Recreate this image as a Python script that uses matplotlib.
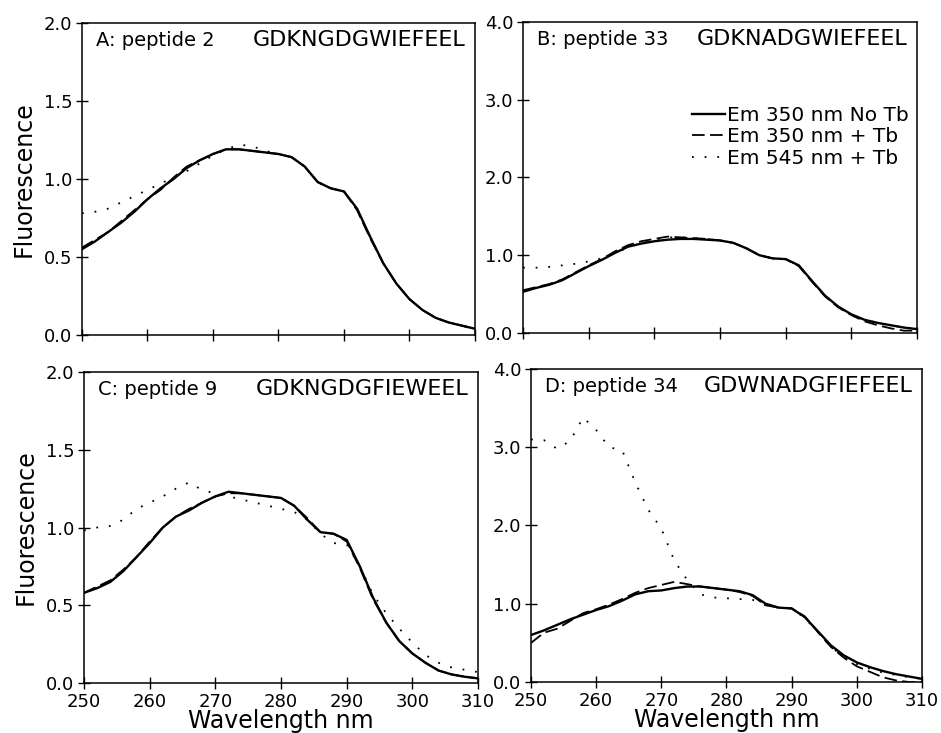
import numpy as np
import matplotlib
matplotlib.use("Agg")
import matplotlib.pyplot as plt

# Excitation spectra, wavelength grid in nm
wavelength = np.arange(250, 311, 2)

# A: peptide 2
a_no_tb = [0.55, 0.60, 0.66, 0.72, 0.79, 0.87, 0.94, 1.00, 1.07, 1.12, 1.16, 1.19, 1.19, 1.18, 1.17, 1.16,
           1.14, 1.08, 0.98, 0.94, 0.92, 0.81, 0.63, 0.46, 0.33, 0.23, 0.16, 0.11, 0.08, 0.06, 0.04]
a_tb_350 = [0.56, 0.61, 0.66, 0.73, 0.80, 0.87, 0.93, 1.01, 1.08, 1.12, 1.16, 1.19, 1.19, 1.18, 1.17, 1.16,
            1.14, 1.08, 0.98, 0.94, 0.92, 0.80, 0.62, 0.46, 0.33, 0.23, 0.16, 0.11, 0.08, 0.06, 0.04]
a_tb_545 = [0.78, 0.79, 0.81, 0.85, 0.89, 0.93, 0.97, 1.01, 1.05, 1.10, 1.15, 1.19, 1.22, 1.21, 1.18, 1.16,
            1.14, 1.08, 0.98, 0.94, 0.92, 0.81, 0.63, 0.46, 0.33, 0.23, 0.16, 0.11, 0.08, 0.06, 0.04]

# B: peptide 33
b_no_tb = [0.53, 0.58, 0.62, 0.68, 0.77, 0.86, 0.94, 1.03, 1.11, 1.15, 1.18, 1.20, 1.21, 1.21, 1.20, 1.19,
           1.16, 1.09, 1.00, 0.96, 0.95, 0.87, 0.67, 0.48, 0.34, 0.24, 0.17, 0.13, 0.10, 0.07, 0.05]
b_tb_350 = [0.55, 0.59, 0.63, 0.69, 0.78, 0.87, 0.95, 1.05, 1.13, 1.18, 1.21, 1.24, 1.23, 1.22, 1.21, 1.19,
            1.16, 1.09, 1.00, 0.96, 0.95, 0.86, 0.66, 0.47, 0.33, 0.23, 0.15, 0.10, 0.06, 0.03, 0.03]
b_tb_545 = [0.84, 0.84, 0.85, 0.87, 0.89, 0.92, 0.96, 1.03, 1.10, 1.16, 1.20, 1.23, 1.23, 1.22, 1.21, 1.19,
            1.16, 1.09, 1.00, 0.96, 0.95, 0.87, 0.67, 0.48, 0.34, 0.24, 0.17, 0.13, 0.10, 0.07, 0.05]

# C: peptide 9
c_no_tb = [0.58, 0.61, 0.65, 0.72, 0.81, 0.90, 1.00, 1.07, 1.11, 1.16, 1.20, 1.23, 1.22, 1.21, 1.20, 1.19,
           1.14, 1.05, 0.97, 0.96, 0.92, 0.75, 0.55, 0.39, 0.27, 0.19, 0.13, 0.08, 0.055, 0.04, 0.03]
c_tb_350 = [0.58, 0.62, 0.66, 0.73, 0.81, 0.91, 1.00, 1.07, 1.12, 1.16, 1.20, 1.22, 1.22, 1.21, 1.20, 1.19,
            1.14, 1.06, 0.97, 0.96, 0.91, 0.74, 0.54, 0.39, 0.27, 0.19, 0.13, 0.08, 0.055, 0.04, 0.03]
c_tb_545 = [0.98, 1.00, 1.01, 1.05, 1.12, 1.16, 1.20, 1.25, 1.29, 1.24, 1.22, 1.20, 1.18, 1.16, 1.14, 1.12,
            1.10, 1.05, 0.96, 0.90, 0.89, 0.75, 0.57, 0.45, 0.35, 0.26, 0.18, 0.13, 0.10, 0.085, 0.07]

# D: peptide 34
d_no_tb = [0.60, 0.66, 0.73, 0.80, 0.86, 0.92, 0.97, 1.04, 1.12, 1.16, 1.17, 1.20, 1.22, 1.22, 1.20, 1.18,
           1.16, 1.11, 1.00, 0.95, 0.94, 0.83, 0.65, 0.47, 0.34, 0.25, 0.19, 0.14, 0.10, 0.07, 0.04]
d_tb_350 = [0.50, 0.63, 0.68, 0.78, 0.88, 0.93, 0.99, 1.06, 1.14, 1.20, 1.24, 1.28, 1.25, 1.22, 1.20, 1.18,
            1.15, 1.10, 0.98, 0.95, 0.94, 0.84, 0.64, 0.45, 0.31, 0.20, 0.13, 0.06, 0.02, 0.0, 0.0]
d_tb_545 = [3.10, 3.09, 2.98, 3.08, 3.38, 3.22, 3.00, 2.96, 2.55, 2.20, 1.96, 1.55, 1.30, 1.12, 1.08, 1.07,
            1.06, 1.05, 0.98, 0.95, 0.94, 0.82, 0.64, 0.45, 0.32, 0.23, 0.17, 0.12, 0.09, 0.06, 0.04]

panel_labels = ["A: peptide 2", "B: peptide 33", "C: peptide 9", "D: peptide 34"]
sequences = ["GDKNGDGWIEFEEL", "GDKNADGWIEFEEL", "GDKNGDGFIEWEEL", "GDWNADGFIEFEEL"]
series_labels = ["Em 350 nm No Tb", "Em 350 nm + Tb", "Em 545 nm + Tb"]
data = [(a_no_tb, a_tb_350, a_tb_545), (b_no_tb, b_tb_350, b_tb_545),
        (c_no_tb, c_tb_350, c_tb_545), (d_no_tb, d_tb_350, d_tb_545)]
y_max = [2.0, 4.0, 2.0, 4.0]
y_step = [0.5, 1.0, 0.5, 1.0]

plt.rcParams["font.family"] = "DejaVu Sans"
fig = plt.figure(figsize=(9.41, 7.33), dpi=100)

# axes rectangles (left, bottom, width, height)
rects = [
    [0.0871, 0.543, 0.4176, 0.4257],
    [0.5558, 0.5457, 0.4187, 0.4243],
    [0.0893, 0.0682, 0.4187, 0.4243],
    [0.5643, 0.0696, 0.4155, 0.427],
]

for i in range(4):
    ax = fig.add_axes(rects[i])
    solid, dashed, dotted = data[i]
    ax.plot(wavelength, solid, color="black", lw=1.7, ls="-", label=series_labels[0])
    ax.plot(wavelength, dashed, color="black", lw=1.3, ls=(0, (7, 3)), label=series_labels[1])
    ax.plot(wavelength, dotted, color="black", lw=1.3, ls=(0, (1, 6)), label=series_labels[2])

    ax.set_xlim(250, 310)
    ax.set_ylim(0, y_max[i])
    ax.set_xticks(np.arange(250, 311, 10))
    ax.set_yticks(np.arange(0, y_max[i] + 0.01, y_step[i]))
    ax.yaxis.set_major_formatter(matplotlib.ticker.FormatStrFormatter("%.1f"))
    ax.tick_params(direction="inout", length=8, width=1, labelsize=13, pad=3)
    for s in ax.spines.values():
        s.set_linewidth(1.1)

    if i < 2:
        ax.tick_params(labelbottom=False)
    else:
        ax.set_xlabel("Wavelength nm", fontsize=17, labelpad=-1)
    if i % 2 == 0:
        ax.set_ylabel("Fluorescence", fontsize=17, labelpad=6)

    ax.text(0.035, 0.945, panel_labels[i], transform=ax.transAxes, fontsize=14, va="center", ha="left")
    ax.text(0.975, 0.945, sequences[i], transform=ax.transAxes, fontsize=16, va="center", ha="right")

    if i == 1:
        ax.legend(loc="upper left", bbox_to_anchor=(0.43, 0.73), frameon=False, fontsize=14.5,
                  handlelength=1.6, handletextpad=0.1, labelspacing=0.12, borderpad=0, borderaxespad=0)

fig.savefig("out.png", dpi=100)
